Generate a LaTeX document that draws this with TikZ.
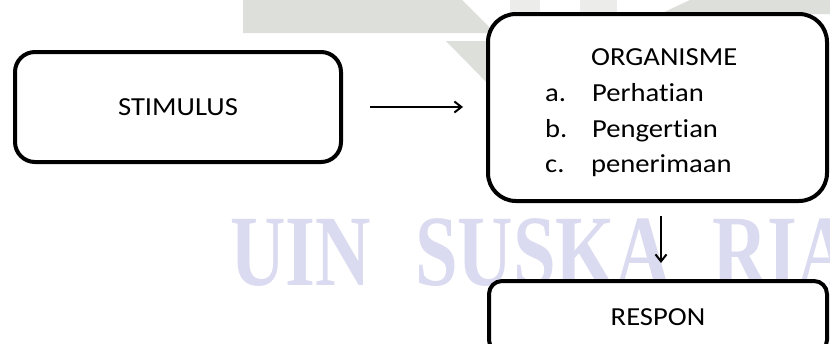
\documentclass[tikz,border=0pt]{standalone}
\usepackage{fontspec}
\setmainfont{Carlito}[FakeStretch=1.1,Ligatures={NoCommon}]
\newfontfamily\wmfont{Liberation Serif}[FakeStretch=0.76,Ligatures={NoCommon}]
\usetikzlibrary{arrows.meta,calc}
\definecolor{logogray}{RGB}{221,223,219}
\definecolor{logolight}{RGB}{236,237,234}
\definecolor{wmcolor}{RGB}{218,218,240}
\tikzset{
  box/.style={draw=black, line width=4pt, fill=white, rounded corners=#1, inner sep=0pt,
    font=\fontsize{26}{31}\selectfont},
  txt/.style={anchor=base west, inner sep=0pt, font=\fontsize{26}{31}\selectfont},
  wm/.style={anchor=base west, inner sep=0pt, text=wmcolor, font=\wmfont\bfseries\fontsize{101}{110}\selectfont},
  conn/.style={line width=2pt, -{Straight Barb[length=7pt,width=11pt,line width=2pt]}}
}
\begin{document}
\begin{tikzpicture}[x=1pt,y=-1pt]
\useasboundingbox (0,0) rectangle (830,343);
\clip (0,0) rectangle (830,343);
\fill[white] (0,0) rectangle (830,343);
% background logo shapes
\fill[logogray] (243,0) -- (462,0) -- (495,33) -- (243,33) -- cycle;
\fill[logogray] (446,41) -- (492,41) -- (492,88) -- cycle;
\fill[logolight] (510,0) rectangle (540,14);
\fill[logolight] (580,0) rectangle (617,14);
\fill[logogray] (660,14) -- (690,0) -- (830,0) -- (830,14) -- cycle;
% watermark
\node[wm] (w1) at (230,285) {UIN};
\node[wm] (w2) at (415,285) {SUSKA};
\node[wm] (w3) at (712,285) {RIA};
% boxes
\node[box=20pt, minimum width=326pt, minimum height=110pt] (stim) at (178,107) {STIMULUS};
\node[box=28pt, minimum width=339pt, minimum height=187pt] (org) at (657.5,107.5) {};
\node[box=13pt, minimum width=338pt, minimum height=72pt] (resp) at (658,317) {RESPON};
% organisme text
\node[txt] (t0) at (591,65) {ORGANISME};
\node[txt] (a1) at (545,101) {a.};
\node[txt] (a2) at (592,101) {Perhatian};
\node[txt] (b1) at (545,137) {b.};
\node[txt] (b2) at (592,137) {Pengertian};
\node[txt] (c1) at (545,172) {c.};
\node[txt] (c2) at (591,172) {penerimaan};
% connectors
\coordinate (ax) at (661,0);
\draw[conn, shorten <=27pt, shorten >=23pt] (stim.east) -- (org.west |- stim.east);
\draw[conn, shorten <=13pt, shorten >=16pt] (org.south -| ax) -- (resp.north -| ax);
\end{tikzpicture}
\end{document}
